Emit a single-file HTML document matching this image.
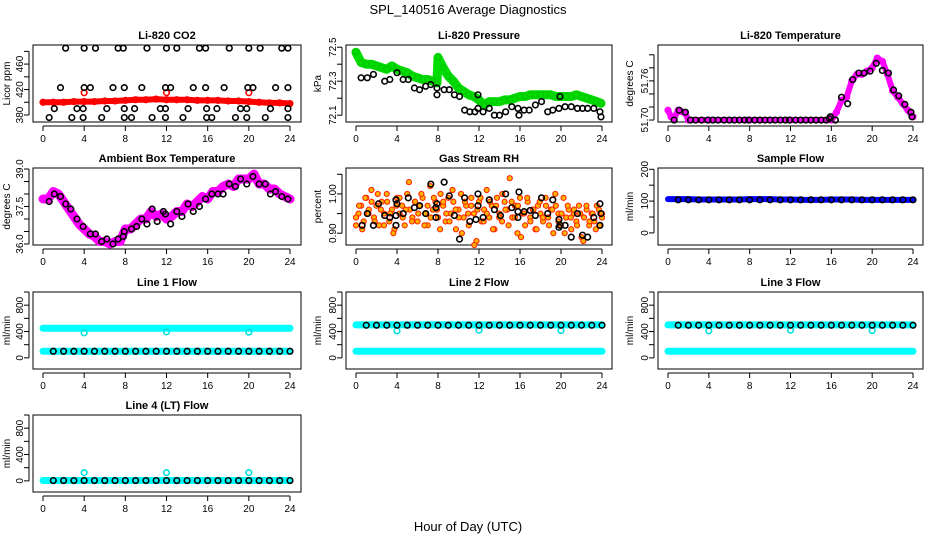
<!DOCTYPE html>
<html><head><meta charset="utf-8">
<style>
body{margin:0;background:#fff;}
svg{display:block;font-family:"Liberation Sans",Arial,sans-serif;}
.t{font-size:11px;font-weight:bold;text-anchor:middle;}
.tk{font-size:10px;}
</style></head>
<body>
<svg id="c" width="936" height="540" viewBox="0 0 936 540" xmlns="http://www.w3.org/2000/svg">
<text x="468" y="14" font-size="13" text-anchor="middle">SPL_140516  Average Diagnostics</text>
<text x="468" y="531" font-size="13" text-anchor="middle">Hour of Day (UTC)</text>
</svg>
<script>
// ---------- data ----------
const xTicks=[0,4,8,12,16,20,24];
// CO2
const co2Red=[400,400,400,401,401,401,402,402,403,404,404,405,404,404,404,403,403,403,402,402,401,400,399,399,398];
const co2RedOutT=[4,12,20];
const co2RedOutV=[415,415,415];
const co2BlackT=[2.2,4,5.1,7.3,7.8,10.1,12,13,15.2,15.8,18.1,20,21.1,23.2,23.8, 1.7,4,4.6,6.8,7.9,9.6,11.9,12.4,14.6,15.8,17.6,19.9,20.4,22.6,23.8, 1.1,3.3,3.9,6.2,7.9,8.9,11.4,11.9,14.1,15.9,16.9,19.2,19.8,22.1,23.8, 0.6,2.8,3.9,5.7,7.9,8.6,10.6,11.9,13.6,15.9,16.4,18.7,19.8,21.6,23.8];
const co2BlackV=[485,485,485,485,485,485,485,485,485,485,485,485,485,485,485, 423,423,423,423,423,423,423,423,423,423,423,423,423,423,423, 390,390,390,390,390,390,390,390,390,390,390,390,390,390,390, 376,376,376,376,376,376,376,376,376,376,376,376,376,376,376];
// Pressure
const presGreenT=[0,0.5,1,1.5,2,2.5,3,3.5,4,4.5,5,5.5,6,6.5,7,7.5,7.9,8,8.5,9,9.5,10,10.5,11,11.5,12,12.5,13,13.5,14,14.5,15,15.5,16,16.5,17,17.5,18,18.5,19,19.5,20,20.5,21,21.5,22,22.5,23,23.5,23.9];
const presGreenV=[72.47,72.41,72.40,72.40,72.39,72.38,72.37,72.39,72.37,72.36,72.35,72.33,72.32,72.31,72.31,72.30,72.29,72.44,72.38,72.33,72.30,72.26,72.24,72.22,72.21,72.19,72.16,72.18,72.18,72.18,72.19,72.19,72.20,72.21,72.21,72.22,72.22,72.22,72.22,72.22,72.21,72.21,72.21,72.21,72.22,72.21,72.20,72.19,72.18,72.17];
const presBlackT=[0.5,1.1,1.7,2.8,3.3,4,4.6,5.1,5.7,6.2,6.8,7.3,7.9,7.9,8.6,9.1,9.6,10.1,10.6,11.1,11.6,11.9,11.9,12.4,13,13.5,14,14.6,15.2,15.8,15.9,16.4,16.9,17.5,18.1,18.7,19.2,19.8,19.9,20.4,21,21.6,22.1,22.6,23.2,23.8,23.9];
const presBlackV=[72.32,72.32,72.34,72.30,72.31,72.35,72.31,72.31,72.26,72.25,72.27,72.28,72.26,72.22,72.25,72.25,72.22,72.21,72.13,72.12,72.12,72.14,72.22,72.12,72.14,72.10,72.10,72.12,72.15,72.14,72.10,72.13,72.13,72.16,72.18,72.12,72.13,72.14,72.21,72.15,72.15,72.14,72.14,72.14,72.14,72.12,72.09];
// Li-820 temperature
const tempPinkT=[0,0.3,0.6,1,1.3,1.7,2,4,8,12,16,16.2,16.5,17,17.5,18,18.5,19,19.5,20,20.5,21,21.5,22,22.5,23,23.5,24];
const tempPinkV=[51.715,51.705,51.703,51.715,51.713,51.710,51.700,51.700,51.700,51.700,51.700,51.705,51.712,51.730,51.735,51.760,51.770,51.770,51.775,51.780,51.795,51.790,51.770,51.745,51.735,51.725,51.715,51.705];
const tempBlackT=[0.6,1.1,1.7,2.2,2.7,3.3,3.9,4.4,4.9,5.5,6,6.5,7,7.5,7.9,8.5,9,9.5,10,10.5,11,11.5,11.9,12.5,13,13.5,14,14.5,15,15.5,15.8,15.9,16.4,17,17.6,18.1,18.7,19.2,19.8,20.4,21,21.6,22.1,22.6,23.2,23.8,23.9];
const tempBlackV=[51.700,51.715,51.712,51.700,51.700,51.700,51.700,51.700,51.700,51.700,51.700,51.700,51.700,51.700,51.700,51.700,51.700,51.700,51.700,51.700,51.700,51.700,51.700,51.700,51.700,51.700,51.700,51.700,51.700,51.700,51.702,51.705,51.700,51.735,51.725,51.762,51.772,51.772,51.775,51.787,51.776,51.772,51.746,51.737,51.724,51.712,51.705];
// Ambient
const ambPinkT=[0,0.5,1,1.5,2,2.5,3,3.5,4,4.5,5,5.5,6,6.5,7,7.5,8,8.5,9,9.5,10,10.5,11,11.5,12,12.5,13,13.5,14,14.5,15,15.5,16,16.5,17,17.5,18,18.5,19,19.5,20,20.5,21,21.5,22,22.5,23,23.5,24];
const ambPinkV=[37.8,37.8,38.1,38.0,37.7,37.4,37.1,36.8,36.6,36.4,36.3,36.1,36.1,36.0,36.1,36.1,36.6,36.6,36.8,37.0,37.0,37.3,37.1,37.2,37.0,37.1,37.3,37.3,37.6,37.5,37.7,37.9,37.8,38.1,38.1,38.3,38.4,38.3,38.6,38.6,38.6,38.8,38.4,38.4,38.2,38.2,38.0,37.9,37.8];
const ambBlackT=[0.6,1.1,1.7,2.2,2.7,3.3,3.9,4.6,5.1,5.7,6.2,6.8,7.3,7.8,7.9,8.6,9.1,9.6,10.1,10.6,11.1,11.7,11.9,12.4,13,13.5,14.1,14.6,15.2,15.8,16.4,17,17.5,18.1,18.7,19.2,19.8,20.4,21,21.6,22.1,22.6,23.2,23.8];
const ambBlackV=[37.7,38.0,37.9,37.6,37.4,37.0,36.7,36.4,36.4,36.1,36.2,36.0,36.2,36.3,36.5,36.6,36.7,37.0,36.8,37.4,36.9,37.3,37.2,36.8,37.3,37.1,37.6,37.3,37.5,37.8,38.0,38.0,38.0,38.4,38.3,38.6,38.4,38.7,38.4,38.4,38.0,38.1,37.9,37.8];
// Gas stream RH
const rhA=[0.92,0.95,0.97,0.93,0.99,0.96,1.01,0.94,0.97,0.92,0.98,0.95,1.00,0.93,0.96,0.91,0.99,0.95,0.97,0.92,1.00,0.96,0.94,0.98,0.93,0.97,0.99,0.95,0.92,1.02,0.96,0.98,0.94,1.00,0.97,0.93,0.99,0.95,0.98,0.91,0.96,1.00,0.94,0.97,0.92,0.99,0.95,0.88,0.98,0.93,0.96,1.01,0.94,0.97,0.91,0.99,0.95,0.93,0.98,0.96,1.04,0.94,0.97,0.90,0.99,0.95,0.92,0.98,0.94,0.96,0.91,0.97,0.95,0.93,0.99,0.94,0.96,0.90,0.97,0.95,0.92,0.99,0.94,0.96,0.91,0.95,0.93,0.97,0.89,0.94,0.96,0.92,0.95,0.93,0.97,0.92,0.95];
const rhB=[0.94,0.97,0.91,0.99,0.95,0.98,0.93,1.00,0.96,0.92,0.98,0.95,0.90,0.97,0.99,0.94,0.96,1.03,0.93,0.98,0.95,1.00,0.92,0.97,0.94,0.99,0.96,0.91,0.98,0.95,0.93,1.01,0.96,0.94,0.90,0.98,0.95,0.97,0.87,0.96,0.99,0.93,0.95,0.98,0.91,0.97,0.94,1.00,0.96,0.92,0.98,0.94,0.97,0.89,0.95,0.99,0.93,0.96,0.91,0.98,0.94,0.97,0.92,0.96,1.00,0.93,0.95,0.90,0.97,0.94,0.96,0.92,0.95,0.88,0.97,0.93,0.95,0.91,0.96,0.94];
const rhBlackT=[0.6,1.1,1.7,2.2,2.8,3.3,3.9,3.9,4,3.9,4.6,5.1,5.7,6.2,6.8,7.3,7.8,7.9,7.8,8.6,9.1,9.6,10.1,10.6,11.1,11.7,11.9,11.9,12.4,13,13.5,14.1,14.6,15.2,15.8,15.8,15.9,16.4,17,17.5,18.1,18.7,19.2,19.8,19.8,19.9,20.4,21,21.6,22.1,22.6,23.2,23.8,23.8,23.9];
const rhBlackV=[0.92,0.95,0.92,0.975,0.945,0.94,0.985,0.92,0.975,0.945,0.95,0.99,0.965,0.97,0.95,1.025,0.965,0.975,0.94,1.03,0.995,0.945,0.885,0.99,0.93,0.935,0.97,1.0,0.94,0.985,0.96,0.945,1.0,0.965,0.955,0.94,1.005,0.955,0.958,0.945,0.99,0.95,0.985,0.935,0.915,0.92,0.92,0.89,0.95,0.895,0.89,0.94,0.92,0.975,0.95];
// Flows (hourly, 0..24)
const sampleBlue=[106,106,106,105,105,105,105,105,106,106,106,105,105,104,104,104,105,105,105,104,104,104,104,104,104];
const sampleBlack=[104,104,104,104,104,104,104,104,104,104,104,104,104,104,104,104,104,104,104,104,104,104,104,104,104];
const l1High=[450,450,450,450,450,450,450,450,450,450,450,450,450,450,450,450,450,450,450,450,450,450,450,450,450];
const l1Low=[100,100,100,100,100,100,100,100,100,100,100,100,100,100,100,100,100,100,100,100,100,100,100,100,100];
const l1Black=[100,100,100,100,100,100,100,100,100,100,100,100,100,100,100,100,100,100,100,100,100,100,100,100,100];
const l1OutV=[380,395,390];
const l23High=[500,500,500,500,500,500,500,500,500,500,500,500,500,500,500,500,500,500,500,500,500,500,500,500,500];
const l23Low=[100,100,100,100,100,100,100,100,100,100,100,100,100,100,100,100,100,100,100,100,100,100,100,100,100];
const l23Black=[495,495,495,495,495,495,495,495,495,495,495,495,495,495,495,495,495,495,495,495,495,495,495,495,495];
const l23OutV=[410,420,415];
const l4Cyan=[5,5,5,5,5,5,5,5,5,5,5,5,5,5,5,5,5,5,5,5,5,5,5,5,5];
const l4Black=[5,5,5,5,5,5,5,5,5,5,5,5,5,5,5,5,5,5,5,5,5,5,5,5,5];
const l4OutV=[125,125,125];
const outT=[4,12,20];
const hours=[0,1,2,3,4,5,6,7,8,9,10,11,12,13,14,15,16,17,18,19,20,21,22,23,24];

// ---------- drawing ----------
const NS="http://www.w3.org/2000/svg";
const svg=document.getElementById('c');
function mk(tag,attrs,parent){const e=document.createElementNS(NS,tag);for(const k in attrs)e.setAttribute(k,attrs[k]);(parent||svg).appendChild(e);return e;}
const cols=[{bl:33,br:301,x0:43,x1:290,yl:23,yt:10},{bl:346,br:612,x0:356,x1:602,yl:336,yt:321},{bl:658,br:923,x0:668,x1:913,yl:648,yt:633}];
const rows=[45,168,292,415];
const H=77;
function panel(name,title,ylab,c,r,ymin,ymax,ticks,labels,fmt){
  const col=cols[c],top=rows[r],bot=top+H;
  const g=mk('g',{});
  
  
  const sx=v=>col.x0+(v)*(col.x1-col.x0)/24;
  const sy=v=>bot-(v-ymin)/(ymax-ymin)*H;
  const b=mk('rect',{x:col.bl,y:top,width:col.br-col.bl,height:H,fill:'none',stroke:'#000','stroke-width':1},g);
  
  const tt=mk('text',{x:(col.bl+col.br)/2,y:top-6,class:'t'},g);tt.textContent=title;
  
  const xa=mk('g',{},g);
  
  mk('line',{x1:sx(0),x2:sx(24),y1:bot+4,y2:bot+4,stroke:'#000'},xa);
  xTicks.forEach(v=>{mk('line',{x1:sx(v),x2:sx(v),y1:bot+4,y2:bot+9,stroke:'#000'},xa);
    const t=mk('text',{x:sx(v),y:bot+20,class:'tk','text-anchor':'middle'},xa);t.textContent=v;});
  const ya=mk('g',{},g);
  
  mk('line',{x1:col.bl-4,x2:col.bl-4,y1:sy(ticks[0]),y2:sy(ticks[ticks.length-1]),stroke:'#000'},ya);
  ticks.forEach(v=>{mk('line',{x1:col.bl-4,x2:col.bl-9,y1:sy(v),y2:sy(v),stroke:'#000'},ya);});
  labels.forEach(v=>{const t=mk('text',{x:col.yl,y:sy(v),class:'tk','text-anchor':'middle',transform:`rotate(-90 ${col.yl} ${sy(v)})`},ya);t.textContent=fmt?fmt(v):v;});
  const yl=mk('text',{x:col.yt,y:(top+bot)/2,class:'tk','text-anchor':'middle',transform:`rotate(-90 ${col.yt} ${(top+bot)/2})`},g);yl.textContent=ylab;
  
  return {g,sx,sy};
}
function band(p,ts,vs,color,w,name){
  const pl=mk('polyline',{points:ts.map((t,i)=>p.sx(t)+','+p.sy(vs[i])).join(' '),fill:'none',stroke:color,'stroke-width':w,'stroke-linecap':'round','stroke-linejoin':'round'},p.g);
  
}
function pts(p,ts,vs,stroke,name,fill,r,sw){
  const g=mk('g',{},p.g);
  
  ts.forEach((t,i)=>mk('circle',{cx:p.sx(t),cy:p.sy(vs[i]),r:r||2.8,fill:fill||'none',stroke:stroke,'stroke-width':sw||1.6},g));
}
const idxT=a=>a.map((_,i)=>i*24/(a.length-1));

// Row 1
let p=panel('panel-co2','Li-820 CO2','Licor ppm',0,0,369,490,[380,400,420,440,460,480],[380,420,460]);
band(p,hours,co2Red,'#ff0000',6,'co2-red-band');
pts(p,hours,co2Red,'#ff0000','co2-red-points');
pts(p,co2RedOutT,co2RedOutV,'#ff0000','co2-red-outliers');
pts(p,co2BlackT,co2BlackV,'#000','co2-black-points');

p=panel('panel-pressure','Li-820 Pressure','kPa',1,0,72.06,72.513,[72.1,72.2,72.3,72.4,72.5],[72.1,72.3,72.5],v=>v.toFixed(1));
band(p,presGreenT,presGreenV,'#00dd00',9,'pressure-green-band');
pts(p,presGreenT,presGreenV,'#00cc00','pressure-green-points');
pts(p,presBlackT,presBlackV,'#000','pressure-black-points');

p=panel('panel-li820-temp','Li-820 Temperature','degrees C',2,0,51.697,51.815,[51.70,51.72,51.74,51.76,51.78,51.80],[51.70,51.76],v=>v.toFixed(2));
band(p,tempPinkT,tempPinkV,'#ff00ff',6,'temp-pink-band');
pts(p,tempPinkT,tempPinkV,'#ff00ff','temp-pink-points');
pts(p,tempBlackT,tempBlackV,'#000','temp-black-points');

// Row 2
p=panel('panel-ambient','Ambient Box Temperature','degrees C',0,1,35.96,39.04,[36,36.5,37,37.5,38,38.5,39],[36,37.5,39],v=>v.toFixed(1));
band(p,ambPinkT,ambPinkV,'#ff00ff',9,'ambient-pink-band');
pts(p,ambBlackT,ambBlackV,'#000','ambient-black-points');

p=panel('panel-rh','Gas Stream RH','percent',1,1,0.87,1.066,[0.90,0.95,1.00,1.05],[0.90,1.00],v=>v.toFixed(2));
pts(p,idxT(rhA),rhA,'#ff2000','rh-orange-a','#ffb000',2.6,1);
pts(p,idxT(rhB),rhB,'#ff2000','rh-orange-b','#ffb000',2.6,1);
pts(p,rhBlackT,rhBlackV,'#000','rh-black-points');

p=panel('panel-sample-flow','Sample Flow','ml/min',2,1,-38,204,[0,50,100,150,200],[0,100,200]);
band(p,hours,sampleBlue,'#0000ff',6,'sample-blue-band');
pts(p,hours.slice(1),sampleBlack.slice(1),'#000','sample-black-points');

// Row 3
const fT=[0,200,400,600,800,1000],fL=[0,400,800];
p=panel('panel-line1','Line 1 Flow','ml/min',0,2,-169,1000,fT,fL);
band(p,hours,l1High,'#00ffff',7,'line1-cyan-high');
band(p,hours,l1Low,'#00ffff',7,'line1-cyan-low');
pts(p,outT,l1OutV,'#00e0e0','line1-cyan-outliers');
pts(p,hours.slice(1),l1Black.slice(1),'#000','line1-black-points');

p=panel('panel-line2','Line 2 Flow','ml/min',1,2,-169,1000,fT,fL);
band(p,hours,l23High,'#00ffff',7,'line2-cyan-high');
band(p,hours,l23Low,'#00ffff',7,'line2-cyan-low');
pts(p,outT,l23OutV,'#00e0e0','line2-cyan-outliers');
pts(p,hours.slice(1),l23Black.slice(1),'#000','line2-black-points');

p=panel('panel-line3','Line 3 Flow','ml/min',2,2,-169,1000,fT,fL);
band(p,hours,l23High,'#00ffff',7,'line3-cyan-high');
band(p,hours,l23Low,'#00ffff',7,'line3-cyan-low');
pts(p,outT,l23OutV,'#00e0e0','line3-cyan-outliers');
pts(p,hours.slice(1),l23Black.slice(1),'#000','line3-black-points');

// Row 4
p=panel('panel-line4','Line 4 (LT) Flow','ml/min',0,3,-169,1000,fT,fL);
band(p,hours,l4Cyan,'#00ffff',7,'line4-cyan');
pts(p,outT,l4OutV,'#00e0e0','line4-cyan-outliers');
pts(p,hours.slice(1),l4Black.slice(1),'#000','line4-black-points');
</script>
</body></html>
